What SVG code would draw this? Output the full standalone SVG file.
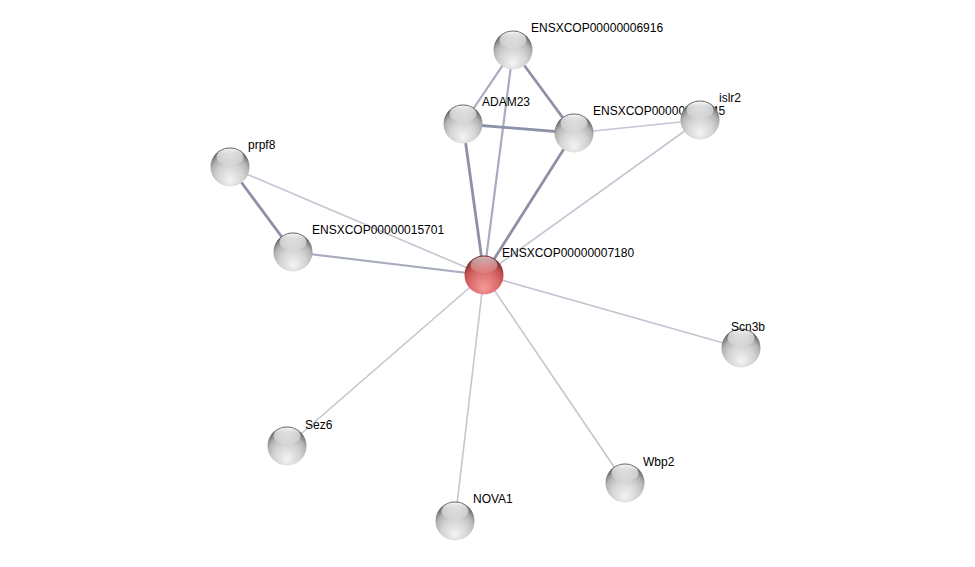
<svg xmlns="http://www.w3.org/2000/svg" width="975" height="567" viewBox="0 0 975 567">
<defs>
<radialGradient id="g" cx="0.5" cy="0.7" r="0.62" fx="0.5" fy="0.85">
<stop offset="0" stop-color="#f4f4f4"/>
<stop offset="0.55" stop-color="#d2d2d2"/>
<stop offset="0.8" stop-color="#b4b4b4"/>
<stop offset="0.93" stop-color="#8a8a8a"/>
<stop offset="1" stop-color="#6a6a6a"/>
</radialGradient>
<radialGradient id="r" cx="0.5" cy="0.7" r="0.62" fx="0.5" fy="0.85">
<stop offset="0" stop-color="#f59a9a"/>
<stop offset="0.55" stop-color="#dc6e6e"/>
<stop offset="0.8" stop-color="#c55454"/>
<stop offset="0.93" stop-color="#a03c3c"/>
<stop offset="1" stop-color="#7a2a2a"/>
</radialGradient>
<linearGradient id="hl" x1="0" y1="0" x2="0" y2="1">
<stop offset="0" stop-color="#ffffff" stop-opacity="0.95"/>
<stop offset="1" stop-color="#ffffff" stop-opacity="0.1"/>
</linearGradient>
</defs>
<style>
text{font-family:"Liberation Sans",Arial,sans-serif;font-size:12px;fill:#000}
.thin{stroke:#c3c5d2;stroke-width:1.6;fill:none}
.mid{stroke:#a8acbf;stroke-width:2.2;fill:none}
.thick{stroke:#8c91a8;stroke-width:2.8;fill:none}
.n{fill:url(#g)}
.nr{fill:url(#r)}
.h{fill:url(#hl)}
</style>
<rect width="975" height="567" fill="#fff"/>
<g id="edges">
<line class="mid" x1="513" y1="50" x2="463" y2="124"/>
<line class="thick" x1="513" y1="50" x2="574" y2="133"/>
<line class="mid" x1="513" y1="50" x2="484" y2="275"/>
<line class="thick" x1="463" y1="124" x2="574" y2="133"/>
<line class="thick" x1="463" y1="124" x2="484" y2="275"/>
<line class="thick" x1="574" y1="133" x2="484" y2="275"/>
<line class="thin" x1="574" y1="133" x2="700" y2="120"/>
<line class="thin" x1="700" y1="120" x2="484" y2="275"/>
<line class="thick" x1="230" y1="167" x2="293" y2="252"/>
<line class="thin" x1="230" y1="167" x2="484" y2="275"/>
<line class="mid" x1="293" y1="252" x2="484" y2="275"/>
<line class="thin" x1="484" y1="275" x2="741" y2="348"/>
<line class="thin" x1="484" y1="275" x2="287" y2="446"/>
<line class="thin" x1="484" y1="275" x2="625" y2="483"/>
<line class="thin" x1="484" y1="275" x2="455" y2="521"/>
</g>
<g id="n6916"><circle class="n" cx="513" cy="50" r="19.5"/><ellipse class="h" cx="513" cy="40" rx="13.5" ry="8.5"/><text x="531" y="32">ENSXCOP00000006916</text></g>
<g id="nADAM23"><circle class="n" cx="463" cy="124" r="19.5"/><ellipse class="h" cx="463" cy="114" rx="13.5" ry="8.5"/><text x="482" y="106">ADAM23</text></g>
<g id="nX"><circle class="n" cx="574" cy="133" r="19.5"/><ellipse class="h" cx="574" cy="123" rx="13.5" ry="8.5"/><text x="593" y="115">ENSXCOP00000007145</text></g>
<g id="nislr2"><circle class="n" cx="700" cy="120" r="19.5"/><ellipse class="h" cx="700" cy="110" rx="13.5" ry="8.5"/><text x="719" y="102">islr2</text></g>
<g id="nprpf8"><circle class="n" cx="230" cy="167" r="19.5"/><ellipse class="h" cx="230" cy="157" rx="13.5" ry="8.5"/><text x="248" y="149">prpf8</text></g>
<g id="n15701"><circle class="n" cx="293" cy="252" r="19.5"/><ellipse class="h" cx="293" cy="242" rx="13.5" ry="8.5"/><text x="312" y="234">ENSXCOP00000015701</text></g>
<g id="n7180"><circle class="nr" cx="484" cy="275" r="19.5"/><ellipse class="h" cx="484" cy="265" rx="13.5" ry="8.5" opacity="0.7"/><text x="502" y="257">ENSXCOP00000007180</text></g>
<g id="nScn3b"><circle class="n" cx="741" cy="348" r="19.5"/><ellipse class="h" cx="741" cy="338" rx="13.5" ry="8.5"/><text x="731" y="331">Scn3b</text></g>
<g id="nSez6"><circle class="n" cx="287" cy="446" r="19.5"/><ellipse class="h" cx="287" cy="436" rx="13.5" ry="8.5"/><text x="305" y="429">Sez6</text></g>
<g id="nWbp2"><circle class="n" cx="625" cy="483" r="19.5"/><ellipse class="h" cx="625" cy="473" rx="13.5" ry="8.5"/><text x="643" y="466">Wbp2</text></g>
<g id="nNOVA1"><circle class="n" cx="455" cy="521" r="19.5"/><ellipse class="h" cx="455" cy="511" rx="13.5" ry="8.5"/><text x="473" y="503">NOVA1</text></g>
</svg>
